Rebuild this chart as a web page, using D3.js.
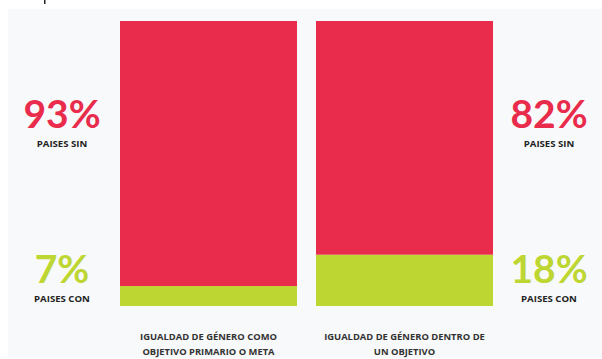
<!DOCTYPE html>
<html lang="es">
<head>
<meta charset="UTF-8">
<script src="https://d3js.org/d3.v7.min.js"></script>
<title>Igualdad de género</title>
<style>
    body { margin: 0; background: #ffffff; }
    svg { display: block; }
</style>
</head>
<body>
<div id="chart"></div>
<script>
    // data
    const categories = [
        ["IGUALDAD DE GÉNERO COMO", "OBJETIVO PRIMARIO O META"],
        ["IGUALDAD DE GÉNERO DENTRO DE", "UN OBJETIVO"]
    ];
    const sinValues = [93, 82];   // paises sin
    const conValues = [7, 18];    // paises con
    const sinLabel = "PAISES SIN";
    const conLabel = "PAISES CON";

    const width = 602, height = 359;
    const red = "#e92c4b", green = "#bdd631";

    const svg = d3.select("#chart").append("svg")
        .attr("width", width)
        .attr("height", height);

    // light panel behind everything
    svg.append("rect")
        .attr("x", 8).attr("y", 9)
        .attr("width", width - 8).attr("height", height - 10)
        .attr("fill", "#f8f9fb");

    // small mark on top
    svg.append("rect")
        .attr("x", 44).attr("y", 0)
        .attr("width", 1.5).attr("height", 4)
        .attr("fill", "#222");

    const x = d3.scaleBand()
        .domain(d3.range(categories.length))
        .range([120, 493])
        .paddingInner(0.097);

    const y = d3.scaleLinear()
        .domain([0, 100])
        .range([306, 21]);

    const bars = svg.selectAll(".bar")
        .data(d3.range(categories.length))
        .enter()
        .append("g")
        .attr("class", "bar");

    // green part (con) at bottom
    bars.append("rect")
        .attr("x", i => x(i))
        .attr("width", x.bandwidth())
        .attr("y", i => y(conValues[i]))
        .attr("height", i => y(0) - y(conValues[i]))
        .attr("fill", green);

    // red part (sin) stacked above
    bars.append("rect")
        .attr("x", i => x(i))
        .attr("width", x.bandwidth())
        .attr("y", i => y(conValues[i] + sinValues[i]))
        .attr("height", i => y(conValues[i]) - y(conValues[i] + sinValues[i]))
        .attr("fill", red);

    // category labels under bars
    bars.append("text")
        .attr("x", i => x(i) + x.bandwidth() / 2)
        .attr("y", 340)
        .attr("text-anchor", "middle")
        .style("font-family", "'Open Sans', sans-serif")
        .style("font-weight", "700")
        .style("font-size", "9.4px")
        .style("fill", "#333")
        .selectAll("tspan")
        .data(i => categories[i])
        .enter()
        .append("tspan")
        .attr("x", function () { return d3.select(this.parentNode).attr("x"); })
        .attr("dy", (d, j) => j === 0 ? 0 : 15)
        .text(d => d);

    // side percentages
    const sideX = [62, 549];
    const side = svg.selectAll(".side")
        .data(d3.range(categories.length))
        .enter()
        .append("g")
        .attr("class", "side");

    function bigText(sel, yPos, color, fn) {
        sel.append("text")
            .attr("x", i => sideX[i])
            .attr("y", yPos)
            .attr("text-anchor", "middle")
            .style("font-family", "Lato, sans-serif")
            .style("font-weight", "700")
            .style("font-size", "39px")
            .style("fill", color)
            .text(fn);
    }
    function smallText(sel, yPos, txt) {
        sel.append("text")
            .attr("x", i => sideX[i])
            .attr("y", yPos)
            .attr("text-anchor", "middle")
            .style("font-family", "'Open Sans', sans-serif")
            .style("font-weight", "700")
            .style("font-size", "9.6px")
            .style("fill", "#222")
            .text(txt);
    }

    bigText(side, 128, red, i => sinValues[i] + "%");
    smallText(side, 147, sinLabel);
    bigText(side, 283, green, i => conValues[i] + "%");
    smallText(side, 302, conLabel);
</script>
</body>
</html>
